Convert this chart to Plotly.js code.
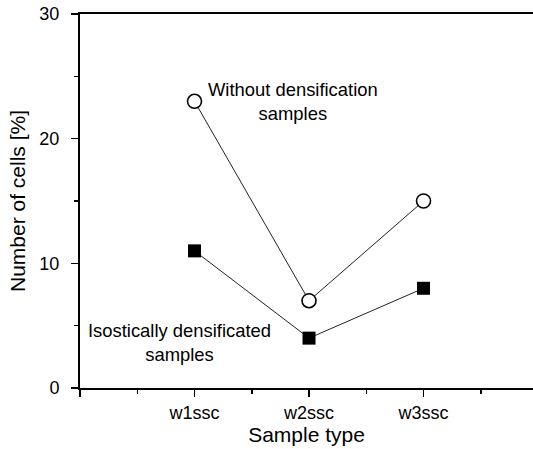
<!DOCTYPE html>
<html><head><meta charset="utf-8">
<script src="https://cdn.plot.ly/plotly-3.0.1.min.js"></script>
<style>html,body{margin:0;padding:0;background:#fff}</style>
</head><body>
<div id="chart" style="width:533px;height:449px"></div>
<script>
const categories = ["w1ssc", "w2ssc", "w3ssc"];
const catPos = [1, 2, 3];
const withoutDensification = [23, 7, 15];
const isosticallyDensificated = [11, 4, 8];
const yTicks = [0, 10, 20, 30];

const font = "Liberation Sans, Arial, sans-serif";

const traces = [
  {x: catPos, y: withoutDensification, mode: "lines+markers", type: "scatter",
   line: {color: "#222", width: 1},
   marker: {symbol: "circle", size: 14, color: "#fff", line: {color: "#000", width: 1.6}},
   cliponaxis: false, showlegend: false},
  {x: catPos, y: isosticallyDensificated, mode: "lines+markers", type: "scatter",
   line: {color: "#222", width: 1},
   marker: {symbol: "square", size: 13, color: "#000", line: {color: "#000", width: 0}},
   cliponaxis: false, showlegend: false}
];

const layout = {
  width: 533, height: 449,
  margin: {l: 80, r: 0, t: 14, b: 61},
  paper_bgcolor: "#fff", plot_bgcolor: "#fff",
  font: {family: font, color: "#000", size: 18},
  xaxis: {
    range: [0, 3.956], showgrid: false, zeroline: false,
    showline: true, linecolor: "#000", linewidth: 2, mirror: true,
    ticks: "outside", ticklen: 7, tickwidth: 1.5, tickcolor: "#000",
    tickmode: "array", tickvals: [0].concat(catPos), ticktext: [""].concat(categories),
    tickfont: {size: 18, family: font},
    minor: {tickmode: "array", tickvals: [0.5, 1.5, 2.5, 3.5], ticks: "outside", ticklen: 4, tickwidth: 1.5, tickcolor: "#000"},
    title: {text: "Sample type", font: {size: 21, family: font}, standoff: 4}
  },
  yaxis: {
    range: [0, 30], showgrid: false, zeroline: false,
    showline: true, linecolor: "#000", linewidth: 2, mirror: false,
    ticks: "outside", ticklen: 7, tickwidth: 1.5, tickcolor: "#000",
    tickmode: "array", tickvals: yTicks, ticktext: yTicks.map(String),
    tickfont: {size: 18, family: font},
    ticklabelstandoff: 8,
    minor: {tickmode: "array", tickvals: [5, 15, 25], ticks: "outside", ticklen: 4, tickwidth: 1.5, tickcolor: "#000"},
    title: {text: "Number of cells [%]", font: {size: 21, family: font}, standoff: 8}
  },
  annotations: [
    {x: 292.5, y: 101, text: "Without densification<br>samples",
     showarrow: false, font: {size: 18.4, family: font}, align: "center"},
    {x: 179.5, y: 342, text: "Isostically densificated<br>samples", showarrow: false,
     font: {size: 18.4, family: font}, align: "center"}
  ]
};
// convert pixel-based annotation positions into data coordinates via axis scales
const xScale = px => (px - 80) / 453 * 3.956;
const yScale = py => (388 - py) / 374 * 30;
layout.annotations = layout.annotations.map(a => Object.assign({}, a, {xref: "x", yref: "y", x: xScale(a.x), y: yScale(a.y)}));

Plotly.newPlot("chart", traces, layout, {displayModeBar: false, staticPlot: true});
</script>
</body></html>
